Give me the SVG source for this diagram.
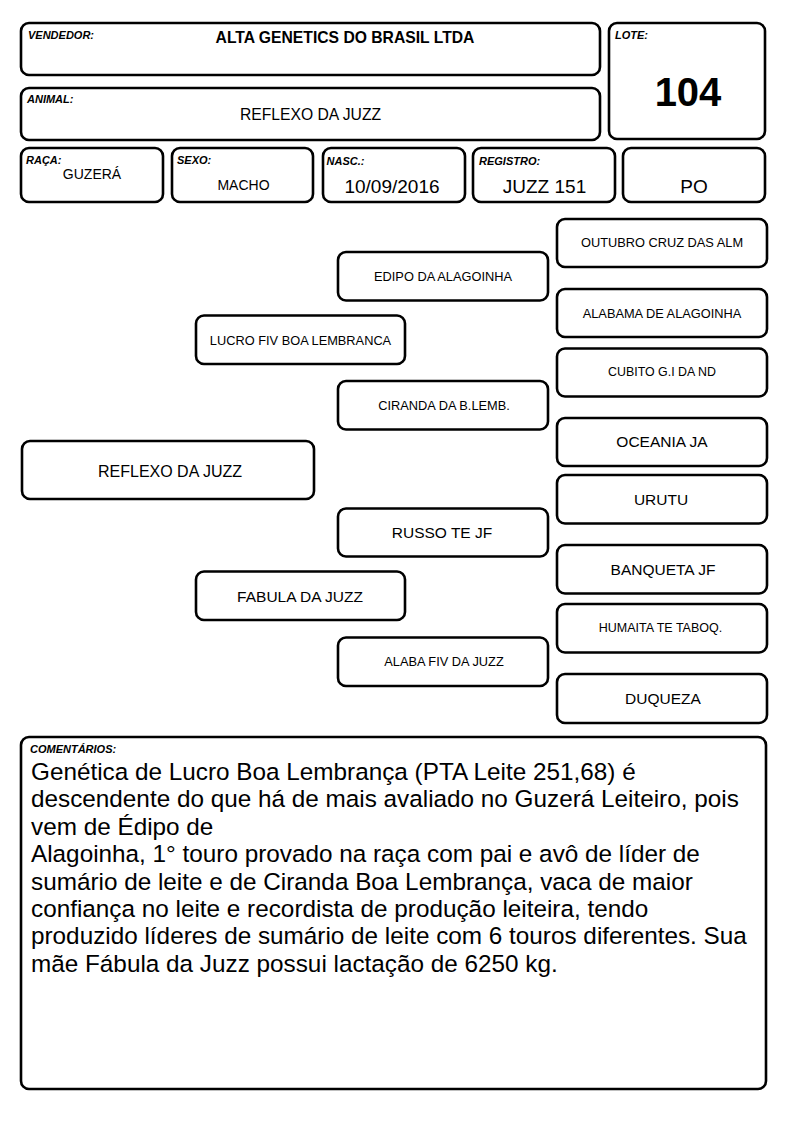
<svg xmlns="http://www.w3.org/2000/svg" width="794" height="1123" viewBox="0 0 794 1123">
<style>
  .box { fill: #fff; stroke: #000; stroke-width: 2.6; }
  text { font-family: "Liberation Sans", Arial, sans-serif; fill: #000; }
  .lbl { font-size: 11px; font-weight: bold; font-style: italic; }
  .c { text-anchor: middle; }
  .s { font-size: 12.8px; }
  .m { font-size: 15.5px; }
  .v { font-size: 19px; }
  .cm { font-size: 24.3px; }
</style>
<rect width="794" height="1123" fill="#fff"/>
<g id="header">
  <g id="vendedor">
    <rect class="box" x="21" y="23" width="579" height="52" rx="8"/>
    <text class="lbl" x="28" y="39">VENDEDOR:</text>
    <text x="345" y="43" class="c" font-size="15.7" font-weight="bold">ALTA GENETICS DO BRASIL LTDA</text>
  </g>
  <g id="lote">
    <rect class="box" x="609" y="23" width="156" height="116" rx="8"/>
    <text class="lbl" x="615" y="39">LOTE:</text>
    <text x="688" y="106" class="c" font-size="40" font-weight="bold">104</text>
  </g>
  <g id="animal">
    <rect class="box" x="21" y="88" width="579" height="52" rx="8"/>
    <text class="lbl" x="27" y="102.5">ANIMAL:</text>
    <text x="310.5" y="120" class="c" font-size="15.7">REFLEXO DA JUZZ</text>
  </g>
  <g id="raca">
    <rect class="box" x="21" y="148" width="142" height="54" rx="8"/>
    <text class="lbl" x="26" y="163.5">RAÇA:</text>
    <text x="92" y="178.5" class="c" font-size="14">GUZERÁ</text>
  </g>
  <g id="sexo">
    <rect class="box" x="172" y="148" width="141" height="54" rx="8"/>
    <text class="lbl" x="177" y="163.5">SEXO:</text>
    <text x="243.5" y="190" class="c" font-size="14">MACHO</text>
  </g>
  <g id="nasc">
    <rect class="box" x="323" y="148" width="142" height="54" rx="8"/>
    <text class="lbl" x="326.5" y="164.5">NASC.:</text>
    <text x="392" y="193.3" class="c v">10/09/2016</text>
  </g>
  <g id="registro">
    <rect class="box" x="473" y="148" width="142" height="54" rx="8"/>
    <text class="lbl" x="479" y="164.5">REGISTRO:</text>
    <text x="544.5" y="193" class="c v">JUZZ 151</text>
  </g>
  <g id="po">
    <rect class="box" x="623" y="148" width="142" height="54" rx="8"/>
    <text x="694" y="192.5" class="c v">PO</text>
  </g>
</g>
<g id="connectors"/>
<g id="pedigree">
  <g id="outubro">
    <rect class="box" x="557" y="219" width="210" height="48" rx="8"/>
    <text x="662" y="246.5" class="c s">OUTUBRO CRUZ DAS ALM</text>
  </g>
  <g id="edipo">
    <rect class="box" x="338" y="252" width="210" height="48.5" rx="8"/>
    <text x="443" y="281" class="c s">EDIPO DA ALAGOINHA</text>
  </g>
  <g id="alabama">
    <rect class="box" x="557" y="289" width="210" height="48" rx="8"/>
    <text x="662" y="317.5" class="c s">ALABAMA DE ALAGOINHA</text>
  </g>
  <g id="lucro">
    <rect class="box" x="196" y="315.5" width="209" height="48.5" rx="8"/>
    <text x="300.5" y="345" class="c s">LUCRO FIV BOA LEMBRANCA</text>
  </g>
  <g id="cubito">
    <rect class="box" x="557" y="348.5" width="210" height="48" rx="8"/>
    <text x="662" y="376" class="c" font-size="12.4">CUBITO G.I DA ND</text>
  </g>
  <g id="ciranda">
    <rect class="box" x="338" y="381" width="210" height="48.5" rx="8"/>
    <text x="444" y="410" class="c s">CIRANDA DA B.LEMB.</text>
  </g>
  <g id="oceania">
    <rect class="box" x="557" y="418" width="210" height="48" rx="8"/>
    <text x="662" y="447" class="c m">OCEANIA JA</text>
  </g>
  <g id="reflexo">
    <rect class="box" x="22" y="441" width="292" height="58" rx="8"/>
    <text x="170" y="476.5" class="c" font-size="16">REFLEXO DA JUZZ</text>
  </g>
  <g id="urutu">
    <rect class="box" x="557" y="475" width="210" height="48.5" rx="8"/>
    <text x="661" y="505" class="c m">URUTU</text>
  </g>
  <g id="russo">
    <rect class="box" x="338" y="508.5" width="210" height="48" rx="8"/>
    <text x="442" y="538.3" class="c m">RUSSO TE JF</text>
  </g>
  <g id="banqueta">
    <rect class="box" x="557" y="545" width="210" height="48.5" rx="8"/>
    <text x="663" y="574.5" class="c m">BANQUETA JF</text>
  </g>
  <g id="fabula">
    <rect class="box" x="196" y="571.5" width="209" height="48.5" rx="8"/>
    <text x="300" y="601.5" class="c m">FABULA DA JUZZ</text>
  </g>
  <g id="humaita">
    <rect class="box" x="557" y="604" width="210" height="48.5" rx="8"/>
    <text x="660.5" y="632.3" class="c" font-size="12.5">HUMAITA TE TABOQ.</text>
  </g>
  <g id="alaba">
    <rect class="box" x="338" y="637.5" width="210" height="48.5" rx="8"/>
    <text x="444" y="665.5" class="c s">ALABA FIV DA JUZZ</text>
  </g>
  <g id="duqueza">
    <rect class="box" x="557" y="674" width="210" height="49" rx="8"/>
    <text x="663" y="704" class="c m">DUQUEZA</text>
  </g>
</g>
<g id="comentarios">
  <rect class="box" x="21" y="737" width="745" height="352" rx="8"/>
  <text class="lbl" x="30" y="752.5">COMENTÁRIOS:</text>
  <text class="cm" x="31" y="780">Genética de Lucro Boa Lembrança (PTA Leite 251,68) é</text>
  <text class="cm" x="31" y="807.4">descendente do que há de mais avaliado no Guzerá Leiteiro, pois</text>
  <text class="cm" x="31" y="834.8">vem de Édipo de</text>
  <text class="cm" x="31" y="862.2">Alagoinha, 1° touro provado na raça com pai e avô de líder de</text>
  <text class="cm" x="31" y="889.6">sumário de leite e de Ciranda Boa Lembrança, vaca de maior</text>
  <text class="cm" x="31" y="917">confiança no leite e recordista de produção leiteira, tendo</text>
  <text class="cm" x="31" y="944.4">produzido líderes de sumário de leite com 6 touros diferentes. Sua</text>
  <text class="cm" x="31" y="971.8">mãe Fábula da Juzz possui lactação de 6250 kg.</text>
</g>
</svg>
